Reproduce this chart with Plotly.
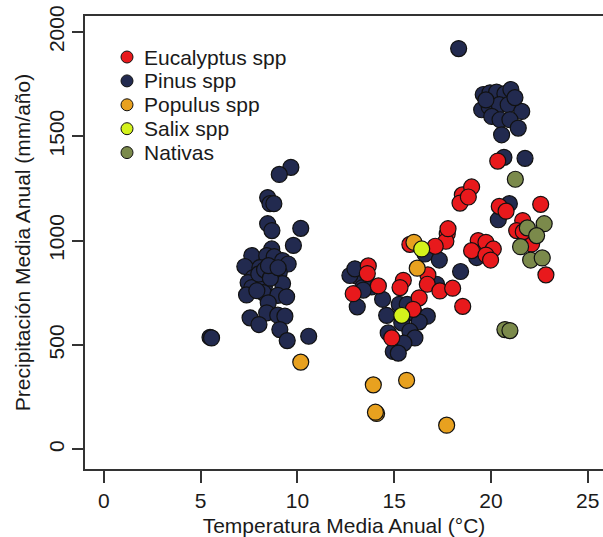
import plotly.graph_objects as go

# Mean annual temperature (°C) and precipitation (mm/año) per plantation, by genus
pinus_temp = [9.66, 9.06, 8.46, 8.58, 8.78, 8.46, 8.68, 10.17, 9.79, 8.67, 7.64, 8.41, 8.80, 9.23,
              9.52, 7.28, 8.06, 8.23, 9.06, 7.72, 7.45, 8.15, 9.23, 7.64, 8.29, 7.37, 8.23, 8.98,
              9.44, 8.49, 8.41, 8.98, 9.35, 7.55, 8.01, 9.09, 9.47, 10.58, 5.48, 5.56, 8.00, 8.30,
              8.60, 7.90, 8.50, 9.00,
              20.67, 21.76, 18.33, 19.60, 19.95, 20.29, 20.72, 21.03, 19.52, 19.91, 20.43, 20.89,
              21.59, 20.04, 20.47, 20.98, 21.41, 20.55, 19.74, 21.24, 20.95, 20.38, 16.59, 17.33,
              18.43, 19.26, 17.19, 12.97, 13.06, 13.37, 13.83, 13.09, 14.40, 15.26, 15.67, 16.07,
              16.71, 16.29, 14.61, 15.39, 14.69, 15.81, 16.07, 15.50, 14.95, 15.21, 13.40, 12.71,
              12.97]
pinus_prec = [1351, 1317, 1206, 1177, 1177, 1081, 1048, 1059, 977, 960, 928, 928, 923, 904,
              888, 876, 871, 839, 847, 823, 799, 799, 794, 775, 778, 740, 751, 738,
              731, 702, 654, 643, 638, 630, 598, 574, 521, 542, 537, 534, 840, 860,
              820, 760, 880, 870,
              1399, 1394, 1920, 1700, 1708, 1711, 1704, 1724, 1627, 1640, 1651, 1651,
              1619, 1595, 1579, 1579, 1539, 1507, 1674, 1685, 1177, 1100, 936, 907,
              852, 919, 791, 855, 831, 775, 778, 683, 719, 695, 695, 649,
              638, 611, 642, 606, 558, 566, 534, 509, 469, 461, 763, 833,
              865]

eucalyptus_temp = [20.35, 18.52, 19.00, 18.40, 18.83, 20.43, 20.78, 22.57, 21.64, 21.33, 22.10,
                   22.84, 17.74, 17.67, 17.12, 15.81, 19.34, 19.74, 20.12, 19.00, 19.74, 19.98,
                   16.74, 16.71, 17.36, 18.02, 18.54, 13.66, 13.61, 14.18, 12.88, 15.47, 15.30,
                   16.29, 15.98, 14.87, 21.67, 17.78]
eucalyptus_prec = [1381, 1219, 1257, 1180, 1209, 1164, 1141, 1174, 1096, 1048, 984,
                   836, 1032, 997, 973, 982, 1000, 992, 960, 952, 931, 907,
                   836, 791, 759, 772, 685, 879, 842, 783, 746, 810, 775,
                   726, 671, 534, 1043, 1057]

populus_temp = [10.17, 16.02, 16.19, 13.92, 15.64, 14.09, 14.03, 17.71]
populus_prec = [418, 992, 868, 309, 331, 172, 178, 116]

salix_temp = [16.42, 15.39]
salix_prec = [960, 642]

nativas_temp = [21.26, 21.88, 22.75, 22.36, 21.53, 22.05, 22.65, 20.72, 20.98]
nativas_prec = [1294, 1061, 1081, 1024, 971, 907, 917, 574, 569]

x_ticks = [0, 5, 10, 15, 20, 25]
y_ticks = [0, 500, 1000, 1500, 2000]

FONT = "Liberation Sans, Arial, Helvetica, sans-serif"
INK = "#1a1a1a"
FS = 21

W, H = 603, 537
ML, MR, MT, MB = 85, 0, 16, 68
PW, PH = W - ML - MR, H - MT - MB

# (name, x, y, fill colour) in drawing order
groups = [
    ("Pinus spp", pinus_temp, pinus_prec, "#222a4f"),
    ("Eucalyptus spp", eucalyptus_temp, eucalyptus_prec, "#e8191c"),
    ("Populus spp", populus_temp, populus_prec, "#e8a11f"),
    ("Salix spp", salix_temp, salix_prec, "#d4f21c"),
    ("Nativas", nativas_temp, nativas_prec, "#7b8a4b"),
]
legend_order = ["Eucalyptus spp", "Pinus spp", "Populus spp", "Salix spp", "Nativas"]
colour_of = {g[0]: g[3] for g in groups}

fig = go.Figure()
for name, xs, ys, col in groups:
    fig.add_trace(go.Scatter(
        x=xs, y=ys, mode="markers", name=name, showlegend=False,
        marker=dict(size=16, color=col, line=dict(color="#111111", width=1.2)),
    ))

# Key in the upper-left corner: small filled circles with labels
key_x_px, key_text_px, key_top_px, key_step_px = 127, 142, 57, 23.9
shapes, annotations = [], []
for i, name in enumerate(legend_order):
    cy = key_top_px + i * key_step_px
    px_x = (key_x_px - ML) / PW
    px_y = 1 - (cy - MT) / PH
    shapes.append(dict(
        type="circle", xref="paper", yref="paper",
        xsizemode="pixel", ysizemode="pixel",
        xanchor=px_x, yanchor=px_y, x0=-6, x1=6, y0=-6, y1=6,
        fillcolor=colour_of[name], line=dict(color="#111111", width=1),
    ))
    annotations.append(dict(
        xref="paper", yref="paper", x=(key_text_px - ML) / PW, y=px_y,
        xanchor="left", yanchor="middle", showarrow=False,
        text=name, font=dict(family=FONT, size=FS, color=INK),
    ))

fig.update_layout(
    width=W, height=H,
    margin=dict(l=ML, r=MR, t=MT, b=MB),
    paper_bgcolor="white", plot_bgcolor="white",
    font=dict(family=FONT, size=FS, color=INK),
    showlegend=False,
    shapes=shapes,
    annotations=annotations,
    xaxis=dict(
        range=[-0.98, 25.79], tickvals=x_ticks, ticktext=[str(v) for v in x_ticks],
        showgrid=False, zeroline=False,
        showline=True, linecolor="#333333", linewidth=1.5, mirror=True,
        ticks="outside", ticklen=12, tickwidth=1.5, tickcolor="#333333",
        tickfont=dict(size=FS),
        title=dict(text="Temperatura Media Anual (°C)", font=dict(size=FS), standoff=9),
    ),
    yaxis=dict(
        range=[-94, 2076], tickvals=y_ticks, ticktext=[str(v) for v in y_ticks],
        showgrid=False, zeroline=False,
        showline=True, linecolor="#333333", linewidth=1.5,
        ticks="outside", ticklen=11, tickwidth=1.5, tickcolor="#333333",
        tickangle=-90, tickfont=dict(size=FS),
        title=dict(text="Precipitación Media Anual (mm/año)", font=dict(size=FS), standoff=8),
    ),
)

fig.write_html("out.html")
